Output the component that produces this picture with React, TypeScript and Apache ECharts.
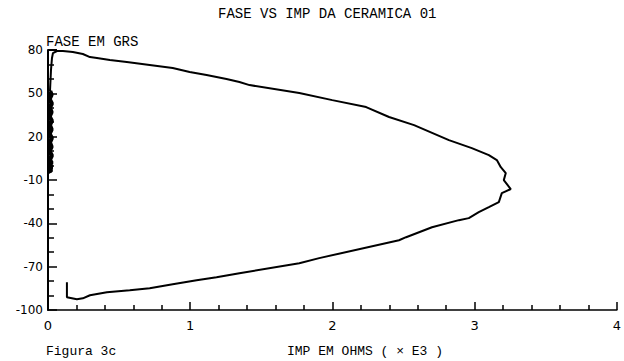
import React, { useEffect, useRef } from "react";
import * as echarts from "echarts";

// Main trace: impedance (x 1000 ohms) and phase (degrees)
const upperImp = [0.014, 0.021, 0.028, 0.035, 0.063, 0.105, 0.175, 0.245, 0.295, 0.344, 0.435, 0.554, 0.715, 0.877, 0.996, 1.115, 1.255, 1.346, 1.417, 1.767, 1.999, 2.237, 2.398, 2.574, 2.819, 2.98, 3.1, 3.156, 3.184, 3.219, 3.205, 3.254];
const upperPhase = [51.6, 66.1, 74.5, 77.9, 79.3, 79.3, 78.6, 77.2, 75.1, 74.5, 73.1, 71.7, 69.6, 67.5, 64.8, 62.7, 59.9, 57.8, 55.7, 50.2, 45.3, 40.5, 33.6, 28.0, 17.6, 12.1, 7.2, 3.8, -1.1, -5.2, -10.1, -16.3];
const lowerImp = [3.191, 3.17, 3.1, 3.029, 2.959, 2.889, 2.7, 2.518, 2.468, 1.907, 1.767, 1.346, 1.185, 1.045, 0.877, 0.715, 0.575, 0.414, 0.295, 0.245, 0.203, 0.168, 0.133, 0.133];
const lowerPhase = [-19.1, -25.3, -28.8, -32.3, -36.4, -37.8, -42.7, -49.6, -51.7, -64.1, -67.6, -74.5, -77.3, -79.4, -82.2, -84.9, -86.3, -87.7, -89.8, -91.9, -92.6, -91.9, -91.2, -80.8];
// Dense low-impedance band next to the phase axis
const bandImp = [0.014, 0.024, 0.01, 0.026, 0.012, 0.024, 0.01, 0.026, 0.012, 0.024, 0.01, 0.026, 0.012, 0.024, 0.01, 0.026, 0.012, 0.024, 0.01, 0.026, 0.012, 0.022, 0.014, 0.02];
const bandPhase = [51.6, 49, 46, 43, 40, 37, 34, 31, 28, 25, 22, 19, 16, 13, 10, 7, 4, 2, 0, -1, -2, -3, -4, -5];
// short segment at the top of the phase axis
const topImp = [0, 0.063];
const topPhase = [80, 80];

const titleText = "FASE VS IMP DA CERAMICA 01";
const yName = "FASE EM GRS";
const xName = "IMP EM OHMS ( \u00d7 E3 )";
const figText = "Figura 3c";

const pairs = (xs: number[], ys: number[]) => xs.map((x, i) => [x, ys[i]]);

export default function App() {
  const ref = useRef<HTMLDivElement>(null);
  useEffect(() => {
    if (!ref.current) return;
    const chart = echarts.init(ref.current, null, { renderer: "svg" });
    const mono = "'Liberation Mono', 'DejaVu Sans Mono', monospace";
    const lineStyle = { color: "#000", width: 2 };
    chart.setOption({
      animation: false,
      backgroundColor: "#fff",
      grid: { left: 48, right: 6, top: 50, bottom: 51, containLabel: false },
      xAxis: {
        type: "value",
        min: 0,
        max: 4,
        interval: 1,
        axisLine: { onZero: false, lineStyle: { color: "#000", width: 1.5 } },
        axisTick: { inside: true, length: 8, lineStyle: { color: "#000", width: 1.5 } },
        minorTick: { show: true, splitNumber: 5, length: 5, lineStyle: { color: "#000", width: 1.5 } },
        splitLine: { show: false },
        axisLabel: { color: "#000", fontSize: 13, fontFamily: "'DejaVu Sans', sans-serif", margin: 9 },
      },
      yAxis: {
        type: "value",
        min: -100,
        max: 80,
        interval: 30,
        axisLine: { show: true, onZero: false, lineStyle: { color: "#000", width: 2 } },
        axisTick: { inside: true, length: 9, lineStyle: { color: "#000", width: 1.5 } },
        minorTick: { show: true, splitNumber: 3, length: 6, lineStyle: { color: "#000", width: 1.5 } },
        splitLine: { show: false },
        axisLabel: { color: "#000", fontSize: 12, fontFamily: "'DejaVu Sans', sans-serif", margin: 5 },
      },
      series: [
        {
          type: "line",
          data: pairs(upperImp, upperPhase).concat(pairs(lowerImp, lowerPhase)),
          showSymbol: false,
          lineStyle,
        },
        {
          type: "line",
          data: pairs(bandImp, bandPhase),
          showSymbol: false,
          lineStyle: { color: "#000", width: 4.5 },
        },
        {
          type: "line",
          data: pairs(topImp, topPhase),
          showSymbol: false,
          lineStyle,
        },
      ],
      graphic: [
        { type: "text", left: 218, top: 7, style: { text: titleText, fill: "#000", font: `14px ${mono}` } },
        { type: "text", left: 46, top: 35, style: { text: yName, fill: "#000", font: `14px ${mono}` } },
        { type: "text", left: 46, top: 345, style: { text: figText, fill: "#000", font: `13px ${mono}` } },
        { type: "text", left: 287, top: 345, style: { text: xName, fill: "#000", font: `13px ${mono}` } },
      ],
    });
    return () => chart.dispose();
  }, []);
  return <div ref={ref} style={{ position: "fixed", left: 0, top: 0, width: 624, height: 361 }} />;
}
